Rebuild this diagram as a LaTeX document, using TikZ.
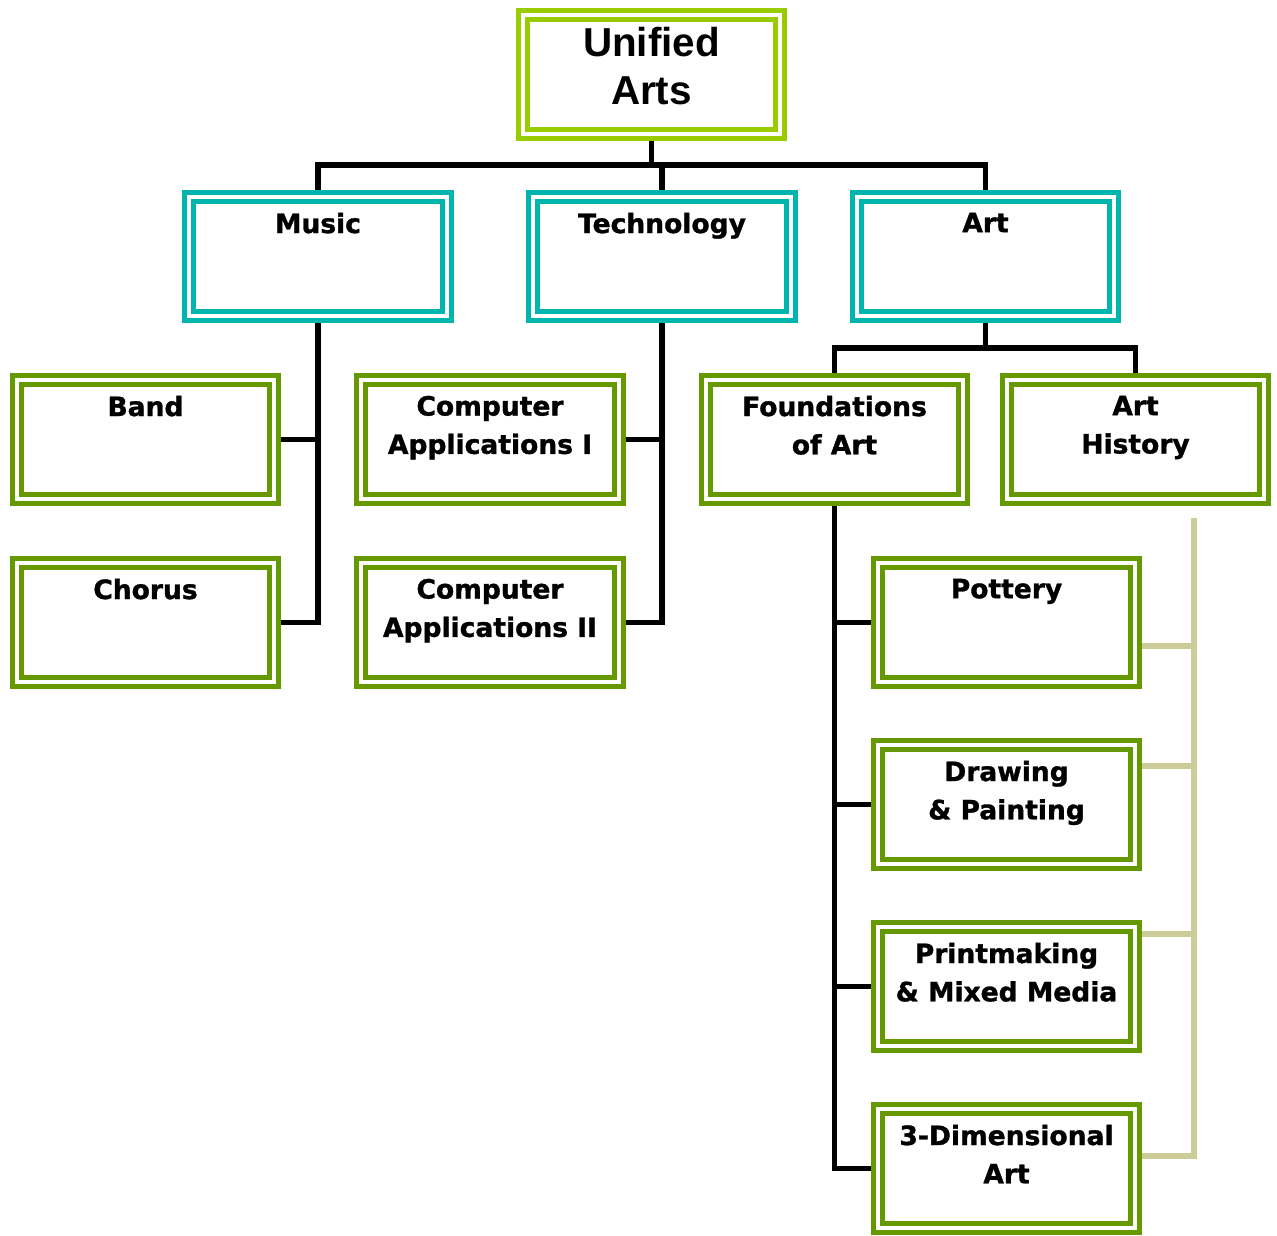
\documentclass[tikz,border=0pt]{standalone}
\usepackage{fontspec}
\usepackage{tikz}
\usetikzlibrary{calc,positioning}
\usepackage{xcolor}
\newfontfamily\boxfont{DejaVu Sans}[BoldFeatures={FakeBold=1.2}]
\newfontfamily\titlefont{Liberation Sans}
\definecolor{rootgreen}{HTML}{99CC00}
\definecolor{deptteal}{HTML}{00B5AD}
\definecolor{leafgreen}{HTML}{669900}
\definecolor{railtan}{HTML}{CCCC99}
\tikzset{
  unit/.style={draw=#1, line width=0.1cm, double=white, double distance=0.08cm,
    fill=white, minimum width=5.16cm, minimum height=2.38cm, outer sep=0.14cm, inner sep=0pt},
  lbl/.style={anchor=north, inner sep=0pt, align=center,
    font=\boxfont\bfseries\fontsize{15.1}{21.8}\selectfont},
  conn/.style={line width=0.11cm},
  faint/.style={draw=railtan, line width=0.12cm}
}

\begin{document}
\begin{tikzpicture}[x=0.02cm, y=-0.02cm]
    \useasboundingbox (0,0) rectangle (1277,1236);
    % boxes
    \node[unit=rootgreen] (ua) at (651.5,74.5) {};
    \node[unit=deptteal] (music) at (318,256.5) {};
    \node[unit=deptteal] (tech) at (662,256.5) {};
    \node[unit=deptteal] (art) at (985.5,256.5) {};
    \node[unit=leafgreen] (band) at (145.5,439.5) {};
    \node[unit=leafgreen] (chorus) at (145.5,622.5) {};
    \node[unit=leafgreen] (cai) at (490,439.5) {};
    \node[unit=leafgreen] (caii) at (490,622.5) {};
    \node[unit=leafgreen] (found) at (834.5,439.5) {};
    \node[unit=leafgreen] (hist) at (1135.5,439.5) {};
    \node[unit=leafgreen] (pottery) at (1006.5,622.5) {};
    \node[unit=leafgreen] (drawing) at (1006.5,804.5) {};
    \node[unit=leafgreen] (print) at (1006.5,986.5) {};
    \node[unit=leafgreen] (threed) at (1006.5,1168.5) {};
    % texts
    \node[lbl, font=\titlefont\bfseries\fontsize{23}{27}\selectfont] at ([yshift=-0.38cm]ua.north) {Unified\\Arts};
    \node[lbl] at ([yshift=-0.45cm]music.north) {Music};
    \node[lbl] at ([yshift=-0.45cm]tech.north) {Technology};
    \node[lbl] at ([yshift=-0.45cm]art.north) {Art};
    \node[lbl] at ([yshift=-0.45cm]band.north) {Band};
    \node[lbl] at ([yshift=-0.45cm]chorus.north) {Chorus};
    \node[lbl] at ([yshift=-0.45cm]cai.north) {Computer\\Applications I};
    \node[lbl] at ([yshift=-0.45cm]caii.north) {Computer\\Applications II};
    \node[lbl] at ([yshift=-0.45cm]found.north) {Foundations\\of Art};
    \node[lbl] at ([yshift=-0.45cm]hist.north) {Art\\History};
    \node[lbl] at ([yshift=-0.45cm]pottery.north) {Pottery};
    \node[lbl] at ([yshift=-0.45cm]drawing.north) {Drawing\\\& Painting};
    \node[lbl] at ([yshift=-0.45cm]print.north) {Printmaking\\\& Mixed Media};
    \node[lbl] at ([yshift=-0.45cm]threed.north) {3-Dimensional\\Art};
    % connectors
    \coordinate (bus) at (651.5,165);
    \draw[conn] (ua.south) -- (bus);
    \draw[conn] (music.north) |- (bus) -| (art.north);
    \draw[conn] (tech.north) -- (tech.north |- bus);
    \draw[conn] (music.south) |- (chorus.east);
    \draw[conn] (band.east) -- (band.east -| music.south);
    \draw[conn] (tech.south) |- (caii.east);
    \draw[conn] (cai.east) -- (cai.east -| tech.south);
    \coordinate (artbus) at (985.5,348);
    \draw[conn] (art.south) -- (artbus);
    \draw[conn] (found.north) |- (artbus) -| (hist.north);
    \draw[conn] (found.south) |- (threed.west);
    \foreach \n in {pottery,drawing,print}
        \draw[conn] (\n.west) -- (\n.west -| found.south);
    % side rail
    \coordinate (rail) at (1194,518);
    \coordinate (p1) at ([yshift=-0.48cm]pottery.east);
    \coordinate (p2) at ([yshift=0.77cm]drawing.east);
    \coordinate (p3) at ([yshift=1.05cm]print.east);
    \coordinate (p4) at ([yshift=0.25cm]threed.east);
    \draw[faint] (rail) |- (p4);
    \foreach \p in {p1,p2,p3}
        \draw[faint] (\p) -- (\p -| rail);
\end{tikzpicture}
\end{document}
